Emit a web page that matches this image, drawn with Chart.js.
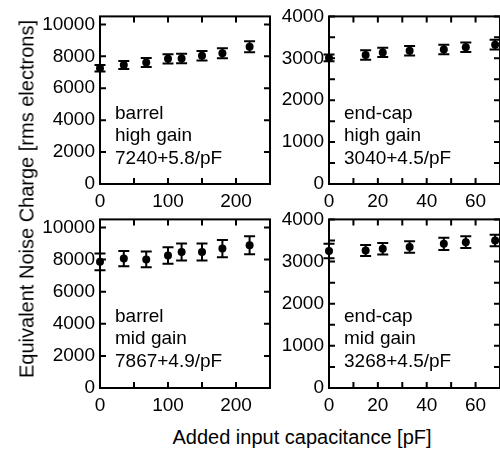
<!DOCTYPE html>
<html>
<head>
<meta charset="utf-8">
<script src="https://cdn.jsdelivr.net/npm/chart.js@4.4.0/dist/chart.umd.min.js"></script>
<style>
  html, body { margin: 0; padding: 0; background: #fff; }
  #wrap { position: relative; width: 500px; height: 450px; overflow: hidden;
          font-family: "Liberation Sans", Arial, sans-serif; color: #000; }
  #wrap canvas { position: absolute; }
  .title { position: absolute; white-space: nowrap; font-size: 20px; transform: translate(-50%, -50%); }
  #ytitle { left: 27px; top: 199px; transform: translate(-50%, -50%) rotate(-90deg); }
  #xtitle { left: 302px; top: 437px; }
</style>
</head>
<body>
<div id="wrap">
  <canvas id="c-bh" width="274" height="216" style="left:0px;top:0px"></canvas>
  <canvas id="c-eh" width="280" height="216" style="left:229px;top:0px"></canvas>
  <canvas id="c-bm" width="274" height="217" style="left:0px;top:203px"></canvas>
  <canvas id="c-em" width="280" height="217" style="left:229px;top:203px"></canvas>
  <div class="title" id="ytitle">Equivalent Noise Charge [rms electrons]</div>
  <div class="title" id="xtitle">Added input capacitance [pF]</div>
</div>
<script>
// added capacitance [pF]
const barrelCap = [0, 35, 68, 100, 120, 150, 180, 220];
const endcapCap = [0, 15, 22, 33, 47, 56, 68];

// ENC [rms electrons] and errors
const barrelHighEnc = [7250, 7450, 7610, 7840, 7860, 8040, 8190, 8600];
const barrelHighErr = [200, 250, 280, 290, 300, 300, 310, 350];
const endcapHighEnc = [3010, 3080, 3140, 3180, 3210, 3265, 3325];
const endcapHighErr = [80, 115, 110, 115, 115, 115, 115];
const barrelMidEnc = [7860, 8060, 8010, 8250, 8470, 8470, 8680, 8890];
const barrelMidErr = [520, 470, 490, 510, 530, 530, 540, 560];
const endcapMidEnc = [3250, 3260, 3305, 3345, 3420, 3460, 3500];
const endcapMidErr = [170, 130, 135, 135, 145, 140, 135];

// ticks
const barrelXLabels = [0, 100, 200];
const barrelXMarks = [0, 50, 100, 150, 200, 250];
const endcapXLabels = [0, 20, 40, 60];
const endcapXMarks = [0, 10, 20, 30, 40, 50, 60, 70];
const barrelYLabels = [0, 2000, 4000, 6000, 8000, 10000];
const barrelYMarks = [0, 2000, 4000, 6000, 8000, 10000];
const endcapYLabels = [0, 1000, 2000, 3000, 4000];
const endcapYMarks = [0, 500, 1000, 1500, 2000, 2500, 3000, 3500, 4000];

// panel notes
const noteBH = ['barrel', 'high gain', '7240+5.8/pF'];
const noteEH = ['end-cap', 'high gain', '3040+4.5/pF'];
const noteBM = ['barrel', 'mid gain', '7867+4.9/pF'];
const noteEM = ['end-cap', 'mid gain', '3268+4.5/pF'];

const FONT = '"Liberation Sans", Arial, sans-serif';

const framePlugin = {
    id: 'frame',
    beforeDatasetsDraw(chart, args, opts) {
        // error bars
        const { ctx, scales: { x, y } } = chart;
        const pts = chart.data.datasets[0].data;
        ctx.save();
        ctx.strokeStyle = '#000';
        ctx.lineWidth = 2;
        ctx.beginPath();
        pts.forEach((p, i) => {
            const px = x.getPixelForValue(p.x);
            const y1 = y.getPixelForValue(p.y - opts.errors[i]);
            const y2 = y.getPixelForValue(p.y + opts.errors[i]);
            ctx.moveTo(px, y1); ctx.lineTo(px, y2);
            ctx.moveTo(px - 5.5, y1); ctx.lineTo(px + 5.5, y1);
            ctx.moveTo(px - 5.5, y2); ctx.lineTo(px + 5.5, y2);
        });
        ctx.stroke();
        ctx.restore();
    },
    afterDraw(chart, args, opts) {
        const { ctx, chartArea: a, scales: { x, y } } = chart;
        ctx.save();
        ctx.strokeStyle = '#000';
        ctx.lineWidth = 2;
        ctx.strokeRect(a.left, a.top, a.right - a.left, a.bottom - a.top);
        ctx.beginPath();
        opts.xMarks.forEach(v => {
            const px = x.getPixelForValue(v);
            ctx.moveTo(px, a.bottom); ctx.lineTo(px, a.bottom - 6);
            ctx.moveTo(px, a.top); ctx.lineTo(px, a.top + 6);
        });
        opts.yMarks.forEach(v => {
            const py = y.getPixelForValue(v);
            ctx.moveTo(a.left, py); ctx.lineTo(a.left + 6, py);
            ctx.moveTo(a.right, py); ctx.lineTo(a.right - 6, py);
        });
        ctx.stroke();

        ctx.fillStyle = '#000';
        ctx.font = '19px ' + FONT;
        ctx.textBaseline = 'middle';
        opts.note.forEach((t, i) => {
            ctx.fillText(t, a.left + 15, a.top + 97 + i * 22.5);
        });
        ctx.restore();
    }
};

function makePanel(id, xs, ys, errs, xMax, yMax, xLabels, xMarks, yLabels, yMarks, note, padRight) {
    const ctx = document.getElementById(id).getContext('2d');
    const tickFont = { family: FONT, size: 19 };
    return new Chart(ctx, {
        type: 'scatter',
        data: {
            datasets: [{
                data: xs.map((v, i) => ({ x: v, y: ys[i] })),
                backgroundColor: '#000',
                borderWidth: 0,
                pointRadius: 4,
                clip: false
            }]
        },
        options: {
            responsive: false,
            animation: false,
            layout: { padding: { top: 14, right: padRight, bottom: 0, left: 0 } },
            plugins: {
                legend: { display: false },
                tooltip: { enabled: false },
                frame: { errors: errs, xMarks: xMarks, yMarks: yMarks, note: note }
            },
            scales: {
                x: {
                    type: 'linear', min: 0, max: xMax,
                    afterBuildTicks: s => { s.ticks = xLabels.map(v => ({ value: v })); },
                    afterFit: s => { s.height = 32; },
                    ticks: { color: '#000', font: tickFont, padding: 6, maxRotation: 0, autoSkip: false,
                             callback: v => String(v) },
                    grid: { display: false, drawTicks: false, tickLength: 0 },
                    border: { display: false }
                },
                y: {
                    type: 'linear', min: 0, max: yMax,
                    afterBuildTicks: s => { s.ticks = yLabels.map(v => ({ value: v })); },
                    afterFit: s => { s.width = 100; },
                    ticks: { color: '#000', font: tickFont, padding: 5, autoSkip: false,
                             callback: v => String(v) },
                    grid: { display: false, drawTicks: false, tickLength: 0 },
                    border: { display: false }
                }
            }
        },
        plugins: [framePlugin]
    });
}

makePanel('c-bh', barrelCap, barrelHighEnc, barrelHighErr, 250, 10500,
    barrelXLabels, barrelXMarks, barrelYLabels, barrelYMarks, noteBH, 2);
makePanel('c-eh', endcapCap, endcapHighEnc, endcapHighErr, 70, 4000,
    endcapXLabels, endcapXMarks, endcapYLabels, endcapYMarks, noteEH, 9);
makePanel('c-bm', barrelCap, barrelMidEnc, barrelMidErr, 250, 10500,
    barrelXLabels, barrelXMarks, barrelYLabels, barrelYMarks, noteBM, 2);
makePanel('c-em', endcapCap, endcapMidEnc, endcapMidErr, 70, 4000,
    endcapXLabels, endcapXMarks, endcapYLabels, endcapYMarks, noteEM, 9);
</script>
</body>
</html>
